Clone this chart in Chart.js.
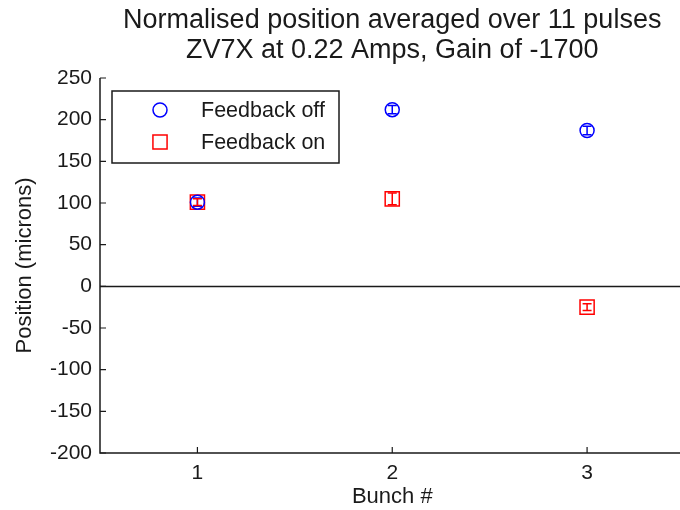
<!DOCTYPE html>
<html>
<head>
<meta charset="utf-8">
<script src="https://cdn.jsdelivr.net/npm/chart.js@4/dist/chart.umd.min.js"></script>
<style>
  html, body { margin: 0; padding: 0; background: #fff; overflow: hidden; }
  canvas { display: block; }
</style>
</head>
<body>
<canvas id="posChart" width="696" height="510"></canvas>
<script>
// data
const bunches = [1, 2, 3];
const offValues = [101, 212, 187];
const offErrors = [5, 5, 5];
const onValues = [101, 105, -25];
const onErrors = [4, 7, 4];
const yTickValues = [-200, -150, -100, -50, 0, 50, 100, 150, 200, 250];
const titleLines = ["Normalised position averaged over 11 pulses", "ZV7X at 0.22 Amps, Gain of -1700"];
const seriesLabels = ["Feedback off", "Feedback on"];

const FONT = "'Liberation Sans', Arial, sans-serif";
const INK = "#1a1a1a";

function toPoints(values) {
  return bunches.map((b, i) => ({ x: b, y: values[i] }));
}

// matlab-ish decorations: zero line, axes, inward ticks, error bars, legend, title
const decor = {
  id: "decor",
  beforeDatasetsDraw(chart) {
    const { ctx, chartArea: a, scales: { x, y } } = chart;
    ctx.save();
    ctx.strokeStyle = INK;
    ctx.lineWidth = 1.5;
    const y0 = Math.round(y.getPixelForValue(0)) + 0.5;
    ctx.beginPath();
    ctx.moveTo(a.left, y0);
    ctx.lineTo(a.right, y0);
    ctx.stroke();

    // error bars
    const errs = [offErrors, onErrors];
    chart.data.datasets.forEach((ds, d) => {
      ctx.strokeStyle = ds.borderColor;
      ctx.lineWidth = 1.5;
      ds.data.forEach((p, i) => {
        const px = x.getPixelForValue(p.x);
        const top = y.getPixelForValue(p.y + errs[d][i]);
        const bot = y.getPixelForValue(p.y - errs[d][i]);
        ctx.beginPath();
        ctx.moveTo(px, top); ctx.lineTo(px, bot);
        ctx.moveTo(px - 4.5, top); ctx.lineTo(px + 4.5, top);
        ctx.moveTo(px - 4.5, bot); ctx.lineTo(px + 4.5, bot);
        ctx.stroke();
      });
    });
    ctx.restore();
  },
  afterDraw(chart) {
    const { ctx, chartArea: a, scales: { x, y } } = chart;
    ctx.save();
    ctx.strokeStyle = INK;
    ctx.lineWidth = 1.5;
    ctx.beginPath();
    ctx.moveTo(a.left, a.top);
    ctx.lineTo(a.left, a.bottom);
    ctx.lineTo(a.right, a.bottom);
    ctx.stroke();

    ctx.lineWidth = 1.2;
    ctx.beginPath();
    y.ticks.forEach(t => {
      const py = y.getPixelForValue(t.value);
      ctx.moveTo(a.left, py); ctx.lineTo(a.left + 6, py);
    });
    x.ticks.forEach(t => {
      const px = x.getPixelForValue(t.value);
      ctx.moveTo(px, a.bottom); ctx.lineTo(px, a.bottom - 6);
    });
    ctx.stroke();

    // legend box
    const bx = 112, by = 91, bw = 227, bh = 72;
    ctx.fillStyle = "#fff";
    ctx.fillRect(bx, by, bw, bh);
    ctx.lineWidth = 1.5;
    ctx.strokeRect(bx, by, bw, bh);
    chart.data.datasets.forEach((ds, i) => {
      const ry = by + 19 + i * 32;
      ctx.strokeStyle = ds.borderColor;
      ctx.fillStyle = "rgba(0,0,0,0)";
      ctx.lineWidth = ds.borderWidth;
      Chart.helpers.drawPoint(ctx, {
        pointStyle: ds.pointStyle, radius: ds.pointRadius, rotation: 0, borderWidth: ds.borderWidth
      }, bx + 48, ry);
      ctx.fillStyle = INK;
      ctx.font = "21.5px " + FONT;
      ctx.textAlign = "left";
      ctx.textBaseline = "middle";
      ctx.fillText(seriesLabels[i], bx + 89, ry + 1);
    });

    // title over the plot area
    ctx.fillStyle = INK;
    ctx.font = "27px " + FONT;
    ctx.textAlign = "center";
    ctx.textBaseline = "middle";
    const cx = (a.left + a.right) / 2;
    titleLines.forEach((line, i) => ctx.fillText(line, cx, 21 + i * 30));
    ctx.restore();
  }
};

new Chart(document.getElementById("posChart"), {
  type: "scatter",
  data: {
    datasets: [
      {
        label: seriesLabels[0],
        data: toPoints(offValues),
        pointStyle: "circle",
        pointRadius: 7,
        borderColor: "#0000ff",
        backgroundColor: "rgba(0,0,0,0)",
        borderWidth: 1.5
      },
      {
        label: seriesLabels[1],
        data: toPoints(onValues),
        pointStyle: "rect",
        pointRadius: 10,
        borderColor: "#ff0000",
        backgroundColor: "rgba(0,0,0,0)",
        borderWidth: 1.5
      }
    ]
  },
  options: {
    responsive: false,
    animation: false,
    events: [],
    layout: { padding: { top: 78, left: 0, right: 1, bottom: 0 } },
    plugins: { legend: { display: false }, title: { display: false }, tooltip: { enabled: false } },
    scales: {
      x: {
        type: "linear",
        min: 0.5,
        max: 3.5,
        afterBuildTicks: s => { s.ticks = bunches.map(v => ({ value: v })); },
        afterFit: s => { s.height = 57; },
        grid: { display: false, drawTicks: false },
        border: { display: false },
        ticks: { color: INK, padding: 8, font: { family: FONT, size: 21 } },
        title: { display: true, text: "Bunch #", color: INK, padding: { top: 0, bottom: 0 }, font: { family: FONT, size: 22 } }
      },
      y: {
        min: -200,
        max: 250,
        afterBuildTicks: s => { s.ticks = yTickValues.map(v => ({ value: v })); },
        afterFit: s => { s.width = 100; },
        grid: { display: false, drawTicks: false },
        border: { display: false },
        ticks: { color: INK, padding: 8, font: { family: FONT, size: 21 } },
        title: { display: true, text: "Position (microns)", color: INK, padding: { top: 12, bottom: 0 }, font: { family: FONT, size: 22 } }
      }
    }
  },
  plugins: [decor]
});
</script>
</body>
</html>
